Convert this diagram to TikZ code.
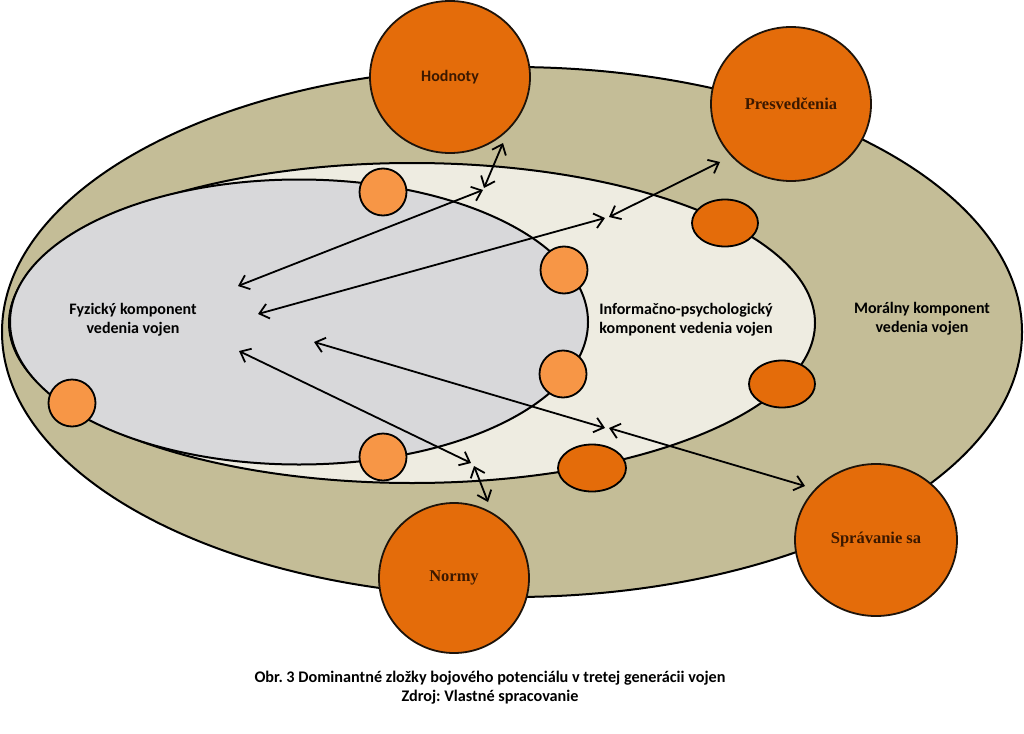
\documentclass[tikz,border=0pt]{standalone}
\usepackage{fontspec}
\setmainfont{Carlito}
\newfontfamily\serifbold{Liberation Serif}
\usetikzlibrary{arrows.meta,shapes.geometric}
\frenchspacing
\definecolor{tanfill}{HTML}{C4BD97}
\definecolor{creamfill}{HTML}{EEECE1}
\definecolor{grayfill}{HTML}{D8D8DA}
\definecolor{lightorange}{HTML}{F79646}
\definecolor{darkorange}{HTML}{E46C0A}
\definecolor{browntext}{HTML}{3B1800}
\tikzset{
  region/.style={draw=black, line width=2pt, ellipse, inner sep=0pt, outer sep=0pt},
  bigcirc/.style={draw=black!85!brown, line width=1.8pt, fill=darkorange, ellipse, inner sep=0pt, text=browntext, font=\bfseries\fontsize{16}{19}\selectfont},
  smallcirc/.style={draw=black, line width=1.8pt, fill=lightorange, circle, inner sep=0pt, minimum size=47pt},
  smallell/.style={draw=black, line width=1.8pt, fill=darkorange, ellipse, inner sep=0pt, minimum width=66pt, minimum height=47pt},
  lbl/.style={align=center, font=\bfseries\fontsize{16}{19}\selectfont, inner sep=0pt},
  arr/.style={line width=1.8pt, {Straight Barb[length=9pt,width=15pt]}-{Straight Barb[length=9pt,width=15pt]}}
}
\begin{document}
\frenchspacing
\begin{tikzpicture}[x=1pt,y=-1pt]
\useasboundingbox (0,0) rectangle (1024,733);
\fill[white] (0,0) rectangle (1024,733);
% regions
\node[region, fill=tanfill, minimum width=1020pt, minimum height=530pt] (moral) at (512,332) {};
\node[region, fill=creamfill, minimum width=806pt, minimum height=320pt] (info) at (412,323) {};
\node[region, fill=grayfill, minimum width=578pt, minimum height=285pt] (fyz) at (299,322) {};
% small circles
\node[smallcirc] (s1) at (383,192) {};
\node[smallcirc] (s2) at (564,270) {};
\node[smallcirc] (s3) at (563,374) {};
\node[smallcirc] (s4) at (72,403) {};
\node[smallcirc] (s5) at (383,457) {};
\node[smallell] (e1) at (725,223) {};
\node[smallell] (e2) at (782,384) {};
\node[smallell, minimum width=68pt] (e3) at (592,468) {};
% big circles
\node[bigcirc, minimum width=160pt, minimum height=152pt] (hod) at (450,77) {Hodnoty};
\node[bigcirc, minimum width=160pt, minimum height=154pt, font=\serifbold\bfseries\fontsize{16.5}{19}\selectfont] (pres) at (791,104) {Presvedčenia};
\node[bigcirc, minimum width=150pt, minimum height=150pt, font=\serifbold\bfseries\fontsize{16.5}{19}\selectfont] (norm) at (454,578) {Normy};
\node[bigcirc, minimum width=162pt, minimum height=152pt, font=\serifbold\bfseries\fontsize{16.5}{19}\selectfont] (spr) at (876,540) {Správanie sa};
% labels
\node[lbl] (lfyz) at (133,320) {Fyzický komponent\\vedenia vojen};
\node[lbl] (linfo) at (686,320) {Informačno-psychologický\\komponent vedenia vojen};
\node[lbl] (lmor) at (922,319) {Morálny komponent\\vedenia vojen};
% arrow end points
\coordinate (a1l) at (238,286);
\coordinate (a1r) at (483,190);
\coordinate (a1s) at (484,188);
\coordinate (a1e) at (503,143);
\coordinate (a2l) at (258,314);
\coordinate (a2r) at (605,218);
\coordinate (a2s) at (609,217);
\coordinate (a2e) at (720,162);
\coordinate (a3l) at (239,351);
\coordinate (a3r) at (471,463);
\coordinate (a3s) at (474,466);
\coordinate (a3e) at (488,502);
\coordinate (a4l) at (314,342);
\coordinate (a4r) at (605,428);
\coordinate (a4s) at (609,428);
\coordinate (a4e) at (805,486);
\draw[arr] (a1l) -- (a1r);
\draw[arr] (a1s) -- (a1e);
\draw[arr] (a2l) -- (a2r);
\draw[arr] (a2s) -- (a2e);
\draw[arr] (a3l) -- (a3r);
\draw[arr] (a3s) -- (a3e);
\draw[arr] (a4l) -- (a4r);
\draw[arr] (a4s) -- (a4e);
% caption
\node[align=center, font=\bfseries\fontsize{16.2}{19}\selectfont, inner sep=0pt] (cap) at (490,688) {Obr. 3 Dominantné zložky bojového potenciálu v tretej generácii vojen\\Zdroj: Vlastné spracovanie};
\end{tikzpicture}
\end{document}
